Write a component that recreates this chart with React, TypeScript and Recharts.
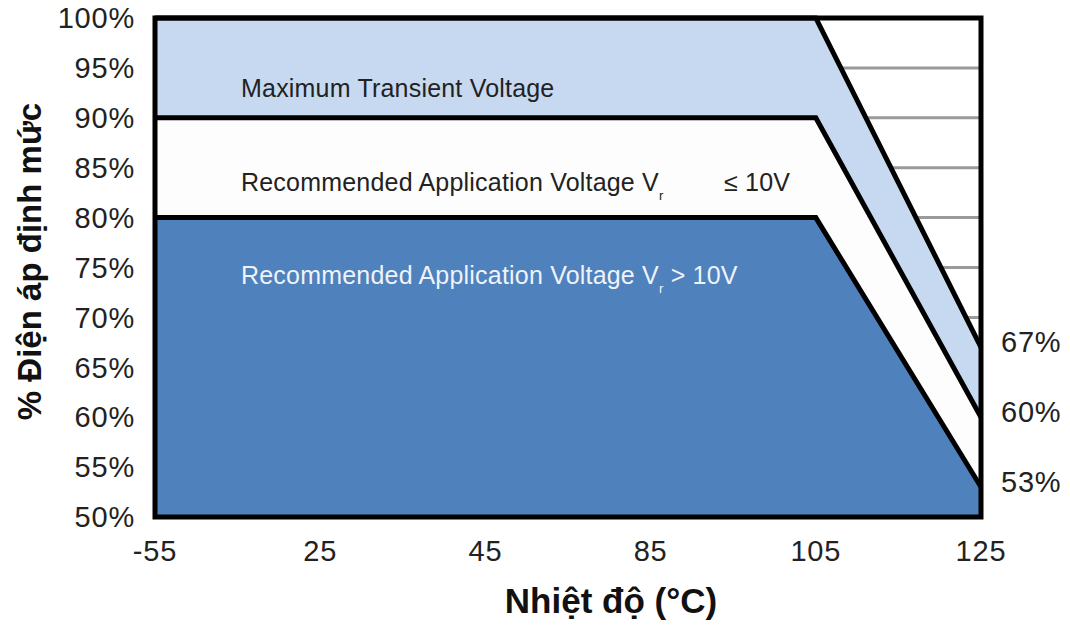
import { AreaChart, Area, XAxis, YAxis, CartesianGrid, ReferenceArea, ReferenceDot, Label } from 'recharts'

const temps = ['-55', '25', '45', '85', '105', '125']
const maxTransient = [100, 100, 100, 100, 100, 67]
const recLow = [90, 90, 90, 90, 90, 60]
const recHigh = [80, 80, 80, 80, 80, 53]
const leftTicks = [50, 55, 60, 65, 70, 75, 80, 85, 90, 95, 100]
const endLabels = [67, 60, 53]

const FONT = '"Liberation Sans", Arial, sans-serif'

const data = temps.map((t, i) => ({
  t,
  maxTransient: maxTransient[i],
  recLow: recLow[i],
  recHigh: recHigh[i],
}))

function bandText(main: string, tail: string, dy: number, color: string, tailX?: number) {
  return (props: any) => {
    const vb = props.viewBox || {}
    const x = vb.x + 86
    const y = vb.y + dy
    return (
      <text x={x} y={y} fill={color} fontSize={25} fontFamily={FONT} letterSpacing={0.2}>
        {main}
        {tail !== '' && (
          <>
            <tspan fontSize={13} dy={9}>r</tspan>
            {tailX !== undefined
              ? <tspan x={tailX} dy={-9}>{tail}</tspan>
              : <tspan dy={-9}> {tail}</tspan>}
          </>
        )}
      </text>
    )
  }
}

function endLabel(v: number) {
  return (props: any) => {
    const vb = props.viewBox || {}
    return (
      <text
        x={vb.x + 20}
        y={vb.y - 5}
        dominantBaseline="central"
        fontSize={29}
        fill="#222"
        fontFamily={FONT}
        letterSpacing={0.8}
      >
        {`${v}%`}
      </text>
    )
  }
}

export default function App() {
  return (
    <div style={{ position: 'absolute', left: 0, top: 0, background: '#fff' }}>
      <AreaChart
        width={1070}
        height={630}
        data={data}
        margin={{ top: 18, right: 89, left: 0, bottom: 0 }}
      >
        <CartesianGrid vertical={false} stroke="#9a9a9a" strokeWidth={3} />
        <XAxis
          dataKey="t"
          axisLine={false}
          tickLine={false}
          tickSize={0}
          tickMargin={23}
          height={113}
          interval={0}
          tick={{ fontSize: 29, fill: '#222', fontFamily: FONT, letterSpacing: 0.8 }}
        >
          <Label
            content={(props: any) => {
              const vb = props.viewBox
              return (
                <text
                  x={vb.x + vb.width / 2 + 43}
                  y={613}
                  textAnchor="middle"
                  fontSize={35}
                  fontWeight="bold"
                  fontFamily={FONT}
                  fill="#111"
                >
                  Nhiệt độ (°C)
                </text>
              )
            }}
          />
        </XAxis>
        <YAxis
          domain={[50, 100]}
          ticks={leftTicks}
          width={155}
          axisLine={false}
          tickLine={false}
          tickSize={8}
          tickMargin={12}
          tickFormatter={(v: number) => `${v}%`}
          tick={{ fontSize: 29, fill: '#222', fontFamily: FONT, letterSpacing: 0.8 }}
        >
          <Label
            content={(props: any) => {
              const vb = props.viewBox
              const cy = vb.y + vb.height / 2 - 6
              return (
                <text
                  x={29}
                  y={cy}
                  transform={`rotate(-90, 29, ${cy})`}
                  textAnchor="middle"
                  dominantBaseline="central"
                  fontSize={33}
                  fontWeight="bold"
                  fontFamily={FONT}
                  fill="#111"
                >
                  % Điện áp định mức
                </text>
              )
            }}
          />
        </YAxis>
        <Area
          type="linear"
          dataKey="maxTransient"
          stroke="#000"
          strokeWidth={5}
          fill="#c6d9f1"
          fillOpacity={1}
          isAnimationActive={false}
          dot={false}
          activeDot={false}
        />
        <Area
          type="linear"
          dataKey="recLow"
          stroke="#000"
          strokeWidth={5}
          fill="#fdfdfd"
          fillOpacity={1}
          isAnimationActive={false}
          dot={false}
          activeDot={false}
        />
        <Area
          type="linear"
          dataKey="recHigh"
          stroke="#000"
          strokeWidth={5}
          fill="#4f81bd"
          fillOpacity={1}
          isAnimationActive={false}
          dot={false}
          activeDot={false}
        />
        <ReferenceArea
          x1="-55"
          x2="105"
          y1={90}
          y2={100}
          fillOpacity={0}
          strokeOpacity={0}
          label={{ content: bandText('Maximum Transient Voltage', '', 79, '#222') }}
        />
        <ReferenceArea
          x1="-55"
          x2="105"
          y1={80}
          y2={90}
          fillOpacity={0}
          strokeOpacity={0}
          label={{ content: bandText('Recommended Application Voltage V', '≤ 10V', 73, '#222', 724) }}
        />
        <ReferenceArea
          x1="-55"
          x2="105"
          y1={50}
          y2={80}
          fillOpacity={0}
          strokeOpacity={0}
          label={{ content: bandText('Recommended Application Voltage V', '> 10V', 66, '#eef3fa') }}
        />
        <ReferenceArea
          x1="-55"
          x2="125"
          y1={50}
          y2={100}
          fill="none"
          stroke="#000"
          strokeWidth={5}
        />
        {endLabels.map(v => (
          <ReferenceDot
            key={v}
            x="125"
            y={v}
            r={0}
            fillOpacity={0}
            strokeOpacity={0}
            ifOverflow="visible"
            label={{ content: endLabel(v) }}
          />
        ))}
      </AreaChart>
    </div>
  )
}
